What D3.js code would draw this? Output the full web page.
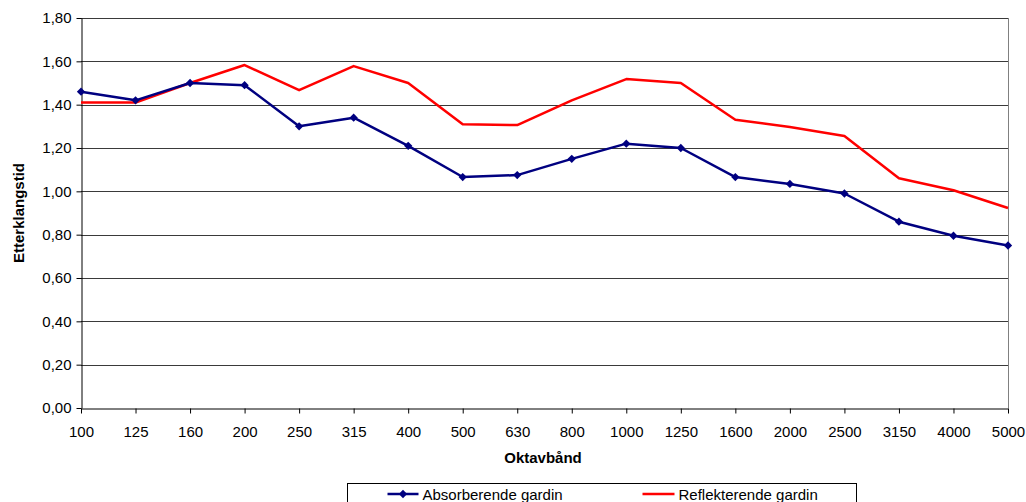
<!DOCTYPE html>
<html>
<head>
<meta charset="utf-8">
<script src="https://cdn.jsdelivr.net/npm/d3@7"></script>
<style>
  body { margin: 0; background: #fff; }
  text { font-family: "Liberation Sans", Arial, sans-serif; }
</style>
</head>
<body>
<div id="chart"></div>
<script>
// data
const bands = ["100", "125", "160", "200", "250", "315", "400", "500", "630", "800",
  "1000", "1250", "1600", "2000", "2500", "3150", "4000", "5000"];
const absorberende = [1.46, 1.42, 1.50, 1.49, 1.30, 1.34, 1.21, 1.066, 1.075, 1.15,
  1.22, 1.20, 1.066, 1.034, 0.99, 0.86, 0.795, 0.75];
const reflekterende = [1.41, 1.41, 1.50, 1.583, 1.467, 1.578, 1.50, 1.31, 1.306, 1.42,
  1.518, 1.50, 1.33, 1.297, 1.255, 1.06, 1.005, 0.923];
const yTicks = [0, 0.2, 0.4, 0.6, 0.8, 1.0, 1.2, 1.4, 1.6, 1.8];

(function () {
  const W = 1026, H = 502;
  const margin = { top: 18, right: 18, bottom: 94, left: 81 },
    width = W - margin.left - margin.right,
    height = H - margin.top - margin.bottom;

  const svg = d3.select("#chart")
    .append("svg")
    .attr("width", W)
    .attr("height", H);

  const g = svg.append("g")
    .attr("transform", `translate(${margin.left},${margin.top})`);

  const x = d3.scalePoint()
    .domain(bands)
    .range([0, width]);

  const y = d3.scaleLinear()
    .domain([0, 1.8])
    .range([height, 0]);

  const fmt = d => d3.format(".2f")(d).replace(".", ",");

  // gridlines
  g.append("g")
    .selectAll("line")
    .data(yTicks.slice(1))
    .join("line")
    .attr("x1", 0)
    .attr("x2", width)
    .attr("y1", d => Math.round(y(d)) + 0.5)
    .attr("y2", d => Math.round(y(d)) + 0.5)
    .attr("stroke", "#3a3a3a")
    .attr("stroke-width", 1);

  // right border
  g.append("line")
    .attr("x1", width + 0.5).attr("x2", width + 0.5)
    .attr("y1", 0).attr("y2", height)
    .attr("stroke", "#808080");

  // Y axis
  const yAxis = g.append("g")
    .attr("transform", "translate(0.5,0)")
    .call(d3.axisLeft(y).tickValues(yTicks).tickFormat(fmt).tickSize(5).tickSizeOuter(0).tickPadding(5));
  yAxis.select(".domain").attr("stroke", "#000");
  yAxis.selectAll("text")
    .attr("font-size", 15)
    .attr("fill", "#000");

  // X axis
  const xAxis = g.append("g")
    .attr("transform", `translate(0,${height + 0.5})`)
    .call(d3.axisBottom(x).tickSize(5).tickSizeOuter(0).tickPadding(13));
  xAxis.select(".domain").attr("stroke", "#000");
  xAxis.selectAll("text")
    .attr("font-size", 15)
    .attr("fill", "#000");

  // axis titles
  svg.append("text")
    .attr("x", 543)
    .attr("y", 463)
    .attr("text-anchor", "middle")
    .attr("font-size", 15)
    .attr("font-weight", "bold")
    .text("Oktavbånd");

  svg.append("text")
    .attr("transform", `translate(24,${margin.top + height / 2}) rotate(-90)`)
    .attr("text-anchor", "middle")
    .attr("font-size", 15)
    .attr("font-weight", "bold")
    .text("Etterklangstid");

  const line = d3.line()
    .x((d, i) => x(bands[i]))
    .y(d => y(d));

  // red series
  g.append("path")
    .datum(reflekterende)
    .attr("fill", "none")
    .attr("stroke", "#ff0000")
    .attr("stroke-width", 2.5)
    .attr("stroke-linejoin", "round")
    .attr("d", line);

  // blue series
  g.append("path")
    .datum(absorberende)
    .attr("fill", "none")
    .attr("stroke", "#000080")
    .attr("stroke-width", 2.5)
    .attr("stroke-linejoin", "round")
    .attr("d", line);

  const diamond = d3.symbol().type(d3.symbolDiamond2).size(44);

  g.append("g")
    .selectAll("path")
    .data(absorberende)
    .join("path")
    .attr("transform", (d, i) => `translate(${x(bands[i])},${y(d)})`)
    .attr("d", diamond)
    .attr("fill", "#000080");

  // legend
  const legend = svg.append("g")
    .attr("transform", "translate(347.5,483.5)");

  legend.append("rect")
    .attr("width", 509)
    .attr("height", 30)
    .attr("fill", "#fff")
    .attr("stroke", "#000");

  legend.append("line")
    .attr("x1", 40).attr("x2", 71)
    .attr("y1", 10.5).attr("y2", 10.5)
    .attr("stroke", "#000080").attr("stroke-width", 2.5);
  legend.append("path")
    .attr("transform", "translate(55.5,10.5)")
    .attr("d", diamond)
    .attr("fill", "#000080");
  legend.append("text")
    .attr("x", 75)
    .attr("y", 16)
    .attr("font-size", 15)
    .text("Absorberende gardin");

  legend.append("line")
    .attr("x1", 295).attr("x2", 327)
    .attr("y1", 10.5).attr("y2", 10.5)
    .attr("stroke", "#ff0000").attr("stroke-width", 2.5);
  legend.append("text")
    .attr("x", 331)
    .attr("y", 16)
    .attr("font-size", 15)
    .text("Reflekterende gardin");
}());
</script>
</body>
</html>
